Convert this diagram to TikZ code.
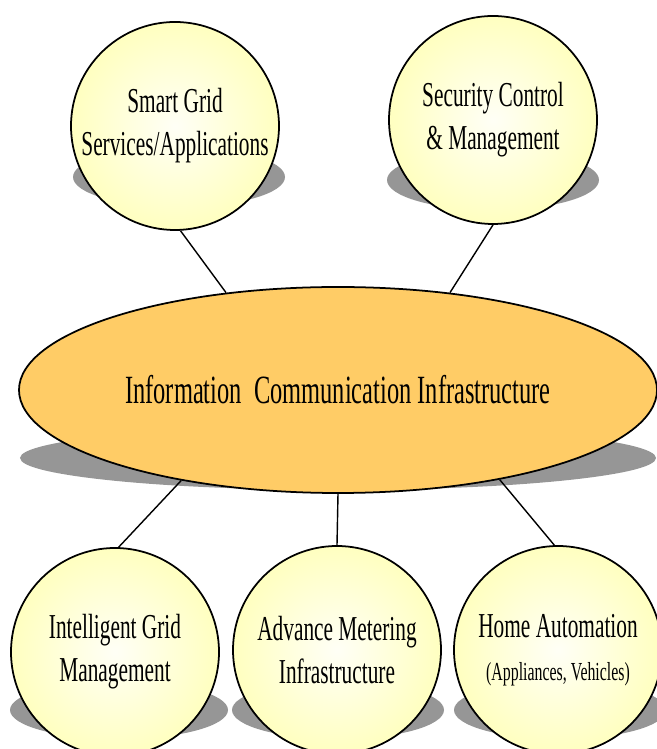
\documentclass[tikz,border=0pt]{standalone}
\usepackage{fontspec}
\setmainfont{Liberation Serif}[FakeStretch=0.61]
\usepackage{tikz}
\usetikzlibrary{shapes.geometric}

\definecolor{bubbleout}{RGB}{255,255,192}
\definecolor{bubblein}{RGB}{255,255,246}
\definecolor{hubfill}{RGB}{255,204,102}
\definecolor{shadowgray}{RGB}{150,150,150}

\tikzset{
  bubble/.style={circle, draw, line width=1pt, minimum size=4.16cm, inner sep=0pt,
    inner color=bubblein, outer color=bubbleout, align=center,
    font=\fontsize{19.9}{24.5}\selectfont},
  hub/.style={ellipse, draw, line width=1pt, fill=hubfill, minimum width=12.76cm,
    minimum height=4.12cm, inner sep=0pt, font=\fontsize{22.8}{26}\selectfont},
  link/.style={line width=0.8pt}
}

\begin{document}
\begin{tikzpicture}

    \useasboundingbox (0, 0) rectangle (13.12, 14.98);

    % shadows
    \fill[shadowgray] (3.58, 11.44) ellipse [x radius=2.12cm, y radius=0.60cm];
    \fill[shadowgray] (9.86, 11.38) ellipse [x radius=2.12cm, y radius=0.60cm];
    \fill[shadowgray] (6.76, 5.82) ellipse [x radius=6.36cm, y radius=0.64cm];
    \fill[shadowgray] (2.38, 0.78) ellipse [x radius=2.18cm, y radius=0.58cm];
    \fill[shadowgray] (6.76, 0.78) ellipse [x radius=2.12cm, y radius=0.58cm];
    \fill[shadowgray] (11.20, 0.78) ellipse [x radius=2.12cm, y radius=0.58cm];

    \node[hub] (ici) at (6.76, 7.18) {Information\ \ Communication Infrastructure};

    \node[bubble] (sg) at (3.50, 12.46) {Smart Grid\\Services/Applications};
    \node[bubble] (sc) at (9.86, 12.58) {Security Control\\\& Management};
    \node[bubble] (ig) at (2.30, 1.94) {Intelligent Grid\\Management};
    \node[bubble] (am) at (6.74, 1.98) {Advance Metering\\Infrastructure};
    \node[bubble] (ha) at (11.16, 1.98) {Home Automation\\{\fontsize{14.8}{18}\selectfont (Appliances, Vehicles)}};

    \draw[link] (sg.-87) -- (ici.139);
    \draw[link] (sc.-90) -- (ici.41);
    \draw[link] (ici.210) -- (ig.88);
    \draw[link] (ici.south) -- (am.north);
    \draw[link] (ici.331) -- (ha.92);

\end{tikzpicture}
\end{document}
